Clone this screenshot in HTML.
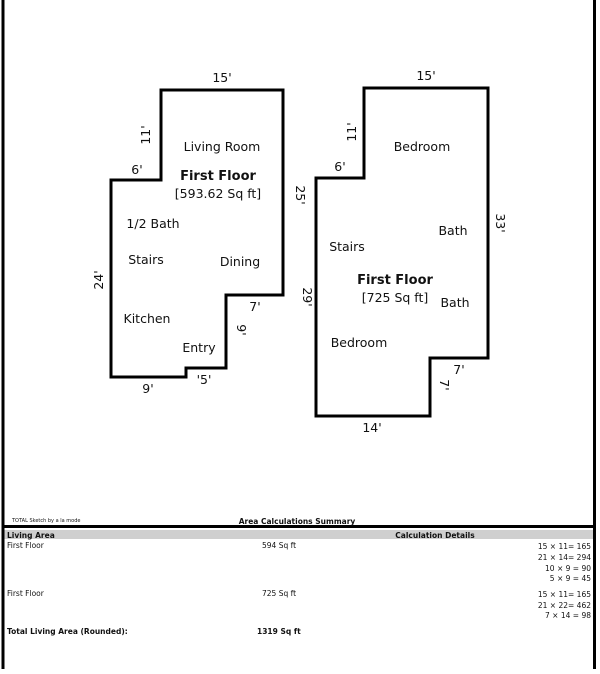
<!DOCTYPE html>
<html><head><style>
body{margin:0;width:600px;height:669px;background:#fff;overflow:hidden;}
svg text{font-family:"DejaVu Sans","Liberation Sans",sans-serif;}
</style></head><body>
<svg width="600" height="669" xmlns="http://www.w3.org/2000/svg">
<rect x="1.5" y="0" width="3" height="669" fill="#000"/>
<rect x="593" y="0" width="3" height="669" fill="#000"/>
<rect x="1.5" y="525" width="594" height="3" fill="#000"/>
<rect x="4.5" y="530" width="588.5" height="9" fill="#cfcfcf"/>

<g fill="none" stroke="#000" stroke-width="3">
<polygon points="161,90 283,90 283,295 226,295 226,368 186,368 186,377 111,377 111,180 161,180"/>
<polygon points="364,88 488,88 488,358 430,358 430,416 316,416 316,178 364,178"/>
</g>

<g font-size="12.5" fill="#111" text-anchor="middle">
<text x="222" y="82">15'</text>
<text x="137" y="174">6'</text>
<text x="150" y="135" transform="rotate(-90 150 135)">11'</text>
<text x="222" y="151">Living Room</text>
<text x="218" y="180" font-weight="bold" font-size="13">First Floor</text>
<text x="218" y="198">[593.62 Sq ft]</text>
<text x="153" y="228">1/2 Bath</text>
<text x="146" y="264">Stairs</text>
<text x="240" y="266">Dining</text>
<text x="296" y="195" transform="rotate(90 296 195)">25'</text>
<text x="103" y="280" transform="rotate(-90 103 280)">24'</text>
<text x="255" y="311">7'</text>
<text x="237" y="330" transform="rotate(90 237 330)">9'</text>
<text x="147" y="323">Kitchen</text>
<text x="199" y="352">Entry</text>
<text x="148" y="393">9'</text>
<text x="204" y="384">'5'</text>

<text x="426" y="80">15'</text>
<text x="340" y="171">6'</text>
<text x="356" y="132" transform="rotate(-90 356 132)">11'</text>
<text x="422" y="151">Bedroom</text>
<text x="347" y="251">Stairs</text>
<text x="453" y="235">Bath</text>
<text x="496" y="223" transform="rotate(90 496 223)">33'</text>
<text x="395" y="284" font-weight="bold" font-size="13">First Floor</text>
<text x="395" y="302">[725 Sq ft]</text>
<text x="455" y="307">Bath</text>
<text x="303" y="297" transform="rotate(90 303 297)">29'</text>
<text x="359" y="347">Bedroom</text>
<text x="459" y="374">7'</text>
<text x="440" y="385" transform="rotate(90 440 385)">7'</text>
<text x="372" y="432">14'</text>
</g>

<g fill="#111">
<text x="12" y="522" font-size="5">TOTAL Sketch by a la mode</text>
<text x="297" y="524" font-size="7.5" font-weight="bold" text-anchor="middle">Area Calculations Summary</text>
<text x="7" y="538" font-size="7.5" font-weight="bold">Living Area</text>
<text x="435" y="538" font-size="7.5" font-weight="bold" text-anchor="middle">Calculation Details</text>
<text x="7" y="548" font-size="7.5">First Floor</text>
<text x="262" y="548" font-size="7.5">594 Sq ft</text>
<text x="7" y="596" font-size="7.5">First Floor</text>
<text x="262" y="596" font-size="7.5">725 Sq ft</text>
<text x="7" y="634" font-size="7.5" font-weight="bold">Total Living Area (Rounded):</text>
<text x="257" y="634" font-size="7.5" font-weight="bold">1319 Sq ft</text>
<g font-size="7.5" text-anchor="end" xml:space="preserve" style="white-space:pre">
<text x="591" y="549">15 × 11=  165</text>
<text x="591" y="560">21 × 14=  294</text>
<text x="591" y="571">10 × 9  =    90</text>
<text x="591" y="581">5 × 9    =    45</text>
<text x="591" y="597">15 × 11=  165</text>
<text x="591" y="608">21 × 22=  462</text>
<text x="591" y="618">7 × 14  =    98</text>
</g>
</g>
</svg>
</body></html>
